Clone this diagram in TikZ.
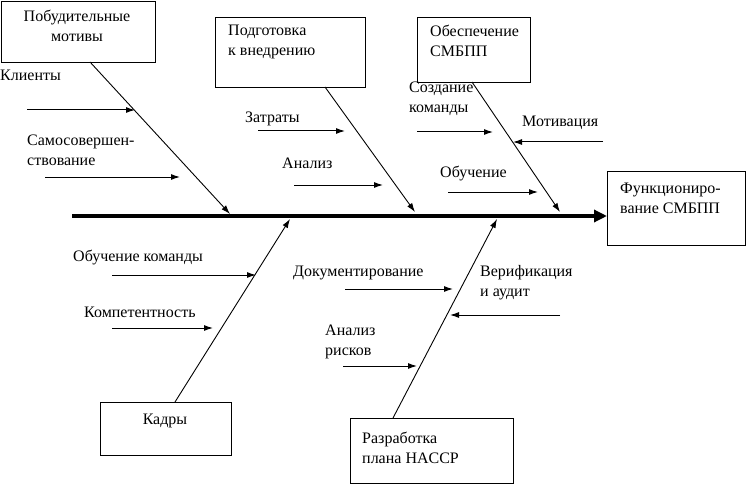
\documentclass[tikz,border=0pt]{standalone}
\usepackage{fontspec}
\setmainfont{Liberation Serif}
\usetikzlibrary{arrows.meta}
\newcommand{\drawbone}{\draw[line width=0.9pt,-{Latex[length=9pt,width=6pt]}]}
\tikzset{
  box/.style={draw,line width=1pt,inner sep=0pt,anchor=north west},
  lbl/.style={inner sep=0pt,anchor=base west,align=left,font=\fontsize{16}{20}\selectfont},
  arr/.style={line width=1pt,-{Latex[length=9pt,width=6pt]}}
}
\begin{document}
\begin{tikzpicture}[x=1pt,y=-1pt]
\useasboundingbox (0,0) rectangle (747,484);
% boxes
\node[box,minimum width=154pt,minimum height=61pt] (motiv) at (1,1) {};
\node[box,minimum width=150pt,minimum height=70pt] (podg) at (215,17) {};
\node[box,minimum width=113pt,minimum height=65pt] (obesp) at (417,17) {};
\node[box,minimum width=138pt,minimum height=74pt] (func) at (607,171) {};
\node[box,minimum width=131pt,minimum height=53pt] (kadry) at (100,402) {};
\node[box,minimum width=163pt,minimum height=65pt] (razr) at (350,418) {};
% box texts (base = last line)
\node[lbl,anchor=base,align=center] (tmotiv) at (77,42) {Побудительные\\мотивы};
\node[lbl] (tpodg) at (228,56) {Подготовка\\к внедрению};
\node[lbl] (tobesp) at (430,57) {Обеспечение\\СМБПП};
\node[lbl] (tfunc) at (620,213) {Функциониро-\\вание СМБПП};
\node[lbl,anchor=base] (tkadry) at (165,424) {Кадры};
\node[lbl] (trazr) at (362,463) {Разработка\\плана HACCP};
% spine
\coordinate (spine) at (72,216);
\draw[line width=4.5pt,-{Triangle[length=13pt,width=12pt]}] (spine) -- (spine -| func.west);
% bones
\coordinate (b1s) at (90,62);   \coordinate (b1e) at (230,214);
\coordinate (b2s) at (325,87);  \coordinate (b2e) at (415,212);
\coordinate (b3s) at (472,82);  \coordinate (b3e) at (560,212);
\coordinate (b4s) at (175,402); \coordinate (b4e) at (290,219);
\coordinate (b5s) at (393,418); \coordinate (b5e) at (497,219);
\drawbone (b1s) -- (b1e);
\drawbone (b2s) -- (b2e);
\drawbone (b3s) -- (b3e);
\drawbone (b4s) -- (b4e);
\drawbone (b5s) -- (b5e);
% cause labels
\node[lbl] (lklient) at (0,81) {Клиенты};
\node[lbl] (lsamo) at (27,165) {Самосовершен-\\ствование};
\node[lbl] (lzatr) at (245,123) {Затраты};
\node[lbl] (lanal) at (282,168) {Анализ};
\node[lbl] (lsozd) at (409,113) {Создание\\команды};
\node[lbl] (lmotiv) at (522,127) {Мотивация};
\node[lbl] (lobuch) at (440,178) {Обучение};
\node[lbl] (lobkom) at (73,261) {Обучение команды};
\node[lbl] (lkomp) at (84,317) {Компетентность};
\node[lbl] (ldoc) at (293,276) {Документирование};
\node[lbl] (lverif) at (480,296) {Верификация\\и аудит};
\node[lbl] (lrisk) at (325,355) {Анализ\\рисков};
% cause arrows
\coordinate (a1s) at (27,110);  \coordinate (a1e) at (135,110);
\coordinate (a2s) at (45,177);  \coordinate (a2e) at (180,177);
\coordinate (a3s) at (258,131); \coordinate (a3e) at (345,131);
\coordinate (a4s) at (294,185); \coordinate (a4e) at (383,185);
\coordinate (a5s) at (417,132); \coordinate (a5e) at (493,132);
\coordinate (a6s) at (603,142); \coordinate (a6e) at (513,142);
\coordinate (a7s) at (448,192); \coordinate (a7e) at (538,192);
\coordinate (a8s) at (112,275); \coordinate (a8e) at (256,275);
\coordinate (a9s) at (112,328); \coordinate (a9e) at (213,328);
\coordinate (a10s) at (345,289); \coordinate (a10e) at (453,289);
\coordinate (a11s) at (560,315); \coordinate (a11e) at (450,315);
\coordinate (a12s) at (343,366); \coordinate (a12e) at (417,366);
\foreach \i in {1,...,12}
  \draw[arr] (a\i s) -- (a\i e);
\end{tikzpicture}
\end{document}
